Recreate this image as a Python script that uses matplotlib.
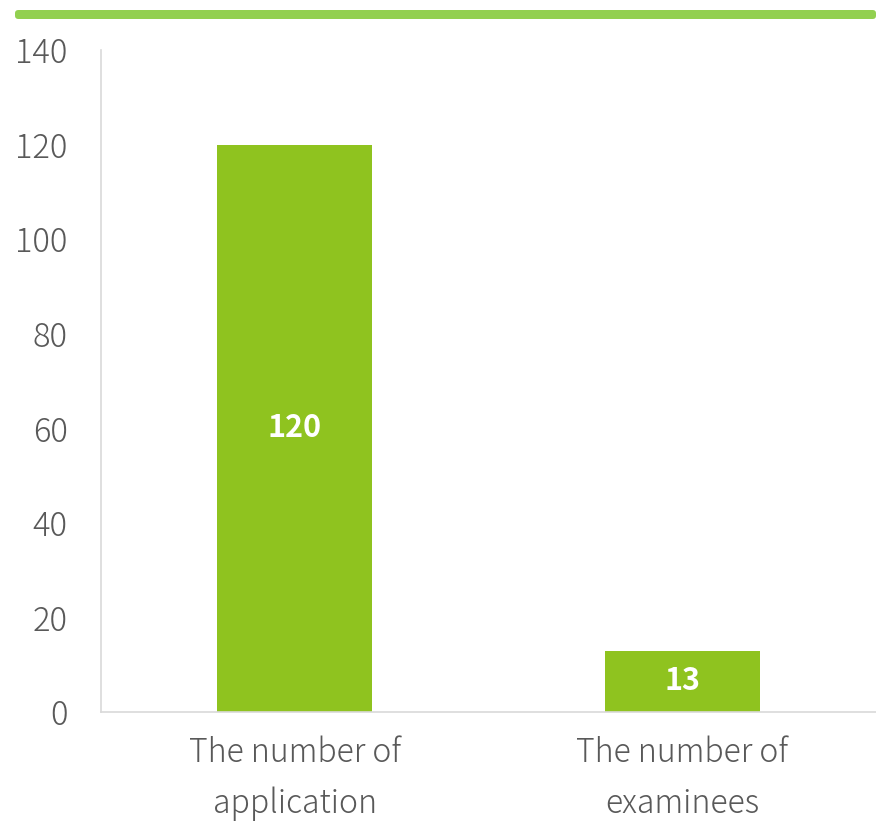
import matplotlib.pyplot as plt
from matplotlib.patches import FancyBboxPatch

categories = ["The number of\napplication", "The number of\nexaminees"]
values = [120, 13]
yticks = [0, 20, 40, 60, 80, 100, 120, 140]

plt.rcParams['font.family'] = ['Noto Sans CJK JP', 'DejaVu Sans']

W, H = 876, 821
fig = plt.figure(figsize=(W / 100, H / 100), dpi=100)

# green band along the top
band = FancyBboxPatch((15 / W, (H - 19) / H), (W - 15) / W, 9 / H,
                      boxstyle="round,pad=0,rounding_size=0.004",
                      transform=fig.transFigure, color="#92D050", lw=0)
fig.patches.append(band)

ax = fig.add_axes([101 / W, (H - 712) / H, (W - 101) / W, (712 - 50) / H])
x = range(len(categories))
bars = ax.bar(x, values, width=0.4, color="#8FC31F")
ax.set_xlim(-0.5, 1.5)
ax.set_ylim(0, 140)
ax.set_yticks(yticks)
ax.set_xticks(list(x))
ax.set_xticklabels(categories, linespacing=1.6)

for b, v in zip(bars, values):
    ax.text(b.get_x() + b.get_width() / 2, v / 2, str(v), ha="center", va="center",
            color="white", fontsize=22, fontweight="bold")

for s in ["top", "right"]:
    ax.spines[s].set_visible(False)
ax.spines["left"].set_color("#d9d9d9")
ax.spines["bottom"].set_color("#d9d9d9")
ax.spines["left"].set_linewidth(1.2)
ax.spines["bottom"].set_linewidth(1.2)
ax.tick_params(length=0, labelsize=23.5, colors="#595959")
ax.tick_params(axis="x", labelsize=23)
ax.tick_params(axis="y", pad=24)
ax.tick_params(axis="x", pad=17)
for lab in ax.get_yticklabels() + ax.get_xticklabels():
    lab.set_fontweight("light")

fig.savefig("out.png", dpi=100)
